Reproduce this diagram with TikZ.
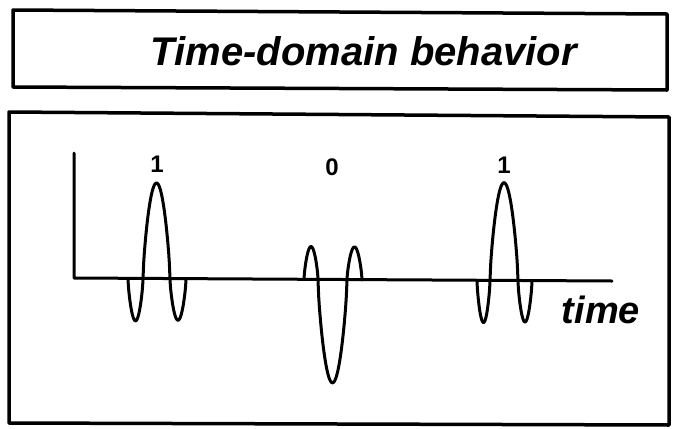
\documentclass[tikz,border=0pt]{standalone}
\usepackage{fontspec}
\setmainfont{Liberation Sans}
\newcommand\lobe[4]{\draw[wave] plot[domain=0:180,samples=45] ({#1+(#2-#1)*\x/180},{#3-(#4)*pow(abs(sin(\x)),0.7)});}
\begin{document}
\begin{tikzpicture}[x=1pt,y=-1pt,line cap=round,line join=round,
  frame/.style={line width=3.5pt},
  wave/.style={line width=3pt},
  axisline/.style={line width=3pt},
  bit/.style={font=\fontsize{24}{24}\selectfont\bfseries,inner sep=0pt,anchor=base},
  titletext/.style={font=\fontsize{40}{40}\selectfont\bfseries\itshape,inner sep=0pt,anchor=base}]
\useasboundingbox (0,0) rectangle (673,429);
% boxes
\draw[frame] (13,10) -- (667,14) -- (667,90) -- (13,87) -- cycle;
\draw[frame] (9,112) -- (669,117) -- (669,425) -- (9,423) -- cycle;
\node[titletext] (title) at (364,65) {Time-domain behavior};
% axes
\coordinate (origin) at (74,278);
\coordinate (ytop) at (74,153);
\coordinate (xend) at (612,281);
\draw[axisline] (ytop) -- (origin) -- (xend);
\node[titletext,font=\fontsize{38}{38}\selectfont\bfseries\itshape] (time) at (601,323) {time};
% pulse 1
\lobe{128}{143}{278.8}{-42}
\lobe{143}{170}{279}{96}
\lobe{170}{186}{279.2}{-41}
% pulse 0
\lobe{304}{318}{279.6}{33}
\lobe{318}{347}{279.8}{-103}
\lobe{347}{362}{280}{33}
% pulse 3
\lobe{477}{490}{280.5}{-42}
\lobe{490}{518}{280.7}{98}
\lobe{518}{532}{280.9}{-41}
% labels
\node[bit] (b1) at (157,172) {1};
\node[bit] (b0) at (332,175) {0};
\node[bit] (b3) at (504,173) {1};
\end{tikzpicture}
\end{document}
